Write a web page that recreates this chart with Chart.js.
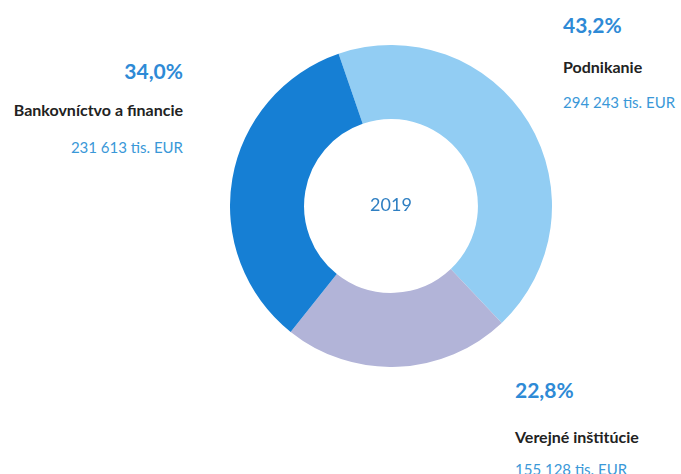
<!DOCTYPE html>
<html>
<head>
<meta charset="utf-8">
<script src="https://cdn.jsdelivr.net/npm/chart.js@4.4.0/dist/chart.umd.min.js"></script>
<style>
  html, body { margin: 0; padding: 0; background: #fff; overflow: hidden; }
  #wrap { position: relative; width: 681px; height: 474px; overflow: hidden; }
  #chart { position: absolute; left: 230px; top: 45px; }
  .lbl { position: absolute; white-space: nowrap; font-family: Lato, "Open Sans", sans-serif; line-height: 1.2; transform: translateY(-50%); }
  .pct { font-size: 21px; font-weight: 700; color: #2e8ad6; }
  .name { font-size: 16px; font-weight: 700; color: #222; }
  .val { font-size: 15px; color: #3a98d8; }
</style>
</head>
<body>
<div id="wrap">
  <canvas id="chart" width="322" height="322"></canvas>
</div>
<script>
const categories = ['Podnikanie', 'Verejné inštitúcie', 'Bankovníctvo a financie'];
const values = [294243, 155128, 231613];          // tis. EUR
const shares = ['43,2%', '22,8%', '34,0%'];
const valueLabels = ['294 243 tis. EUR', '155 128 tis. EUR', '231 613 tis. EUR'];
const colors = ['#92cdf3', '#b2b4d8', '#167fd4'];
const centerLabel = '2019';

// label blocks: x offset from doughnut centre, y offsets of the three lines
const labelPos = [
  { dx: 172, dy: [-181, -139, -104], align: 'left' },   // Podnikanie
  { dx: 124, dy: [184, 231, 263], align: 'left' },      // Verejné inštitúcie
  { dx: -208, dy: [-135, -96, -59], align: 'right' }    // Bankovníctvo a financie
];

const centerText = {
  id: 'centerText',
  afterDraw(chart) {
    const ctx = chart.ctx;
    const arc = chart.getDatasetMeta(0).data[0];
    ctx.save();
    ctx.textBaseline = 'middle';
    ctx.textAlign = 'center';
    ctx.fillStyle = '#2f7fc2';
    ctx.font = '18px Lato, "Open Sans", sans-serif';
    ctx.fillText(centerLabel, arc.x, arc.y - 1);
    ctx.restore();
  }
};

const chart = new Chart(document.getElementById('chart'), {
  type: 'doughnut',
  data: {
    labels: categories,
    datasets: [{ data: values, backgroundColor: colors, borderWidth: 0 }]
  },
  options: {
    responsive: false,
    animation: false,
    rotation: -19,
    cutout: '54%',
    layout: { padding: 0 },
    plugins: { legend: { display: false }, tooltip: { enabled: false } }
  },
  plugins: [centerText]
});

// outer text labels around the doughnut
const wrap = document.getElementById('wrap');
const arc0 = chart.getDatasetMeta(0).data[0];
const cx = 230 + arc0.x, cy = 45 + arc0.y;
labelPos.forEach((p, i) => {
  const texts = [shares[i], categories[i], valueLabels[i]];
  ['pct', 'name', 'val'].forEach((cls, j) => {
    const d = document.createElement('div');
    d.className = 'lbl ' + cls;
    d.textContent = texts[j];
    d.style.top = (cy + p.dy[j]) + 'px';
    if (p.align === 'left') d.style.left = (cx + p.dx) + 'px';
    else d.style.right = (681 - (cx + p.dx)) + 'px';
    wrap.appendChild(d);
  });
});
</script>
</body>
</html>
